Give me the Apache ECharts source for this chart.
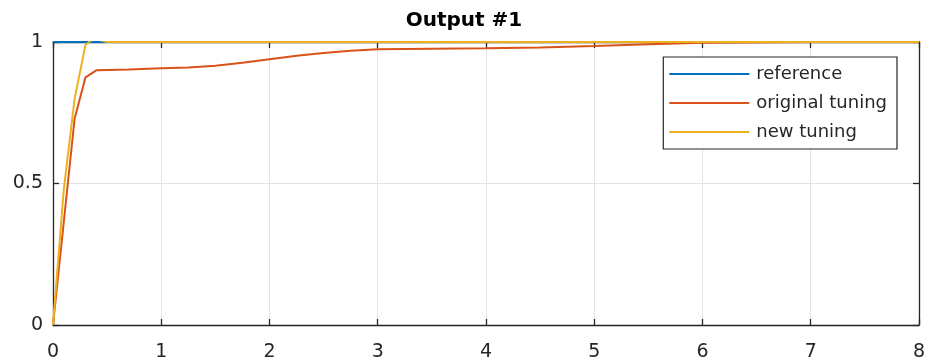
<!DOCTYPE html>
<html>
<head>
<meta charset="utf-8">
<script src="https://cdn.jsdelivr.net/npm/echarts@6/dist/echarts.min.js"></script>
<style>
html,body{margin:0;padding:0;background:#fff;}
#chart{width:928px;height:364px;}
</style>
</head>
<body>
<div id="chart"></div>
<script>
const chartTitle = 'Output #1';
const seriesNames = ['reference', 'original tuning', 'new tuning'];
const xTicks = [0, 1, 2, 3, 4, 5, 6, 7, 8];
const yTicks = [0, 0.5, 1];

const timeRef = [0, 8];
const refValues = [1, 1];

const timeOrig = [0, 0.2, 0.3, 0.4, 0.7, 1, 1.25, 1.5, 1.75, 2, 2.25, 2.5, 2.75, 3, 3.5, 4, 4.5, 5, 5.5, 6, 7, 8];
const origValues = [0, 0.73, 0.875, 0.9, 0.903, 0.907, 0.91, 0.916, 0.927, 0.939, 0.951, 0.961, 0.969, 0.974, 0.976, 0.978, 0.981, 0.986, 0.992, 0.997, 1, 1];

const timeNew = [0, 0.1, 0.2, 0.3, 0.35, 0.4, 0.5, 8];
const newValues = [0, 0.48, 0.8, 0.99, 1.005, 1.01, 1, 1];

const colors = ['#0072BD', '#D95319', '#EDB120'];
const axisColor = '#262626';
const font = 'DejaVu Sans';

function pairs(xs, ys) { return xs.map((x, i) => [x, ys[i]]); }

const chart = echarts.init(document.getElementById('chart'), null, {renderer: 'canvas'});
const baseAxis = {
  axisLine: {show: true, onZero: false, lineStyle: {color: axisColor, width: 1.3}},
  axisTick: {show: true, inside: true, length: 6, lineStyle: {color: axisColor, width: 1.3}},
};
chart.setOption({
  animation: false,
  color: colors,
  title: {
    text: chartTitle, left: 'center', top: 6,
    textStyle: {fontFamily: font, fontWeight: 'bold', fontSize: 20, color: '#000'}
  },
  grid: {left: 53, right: 9, top: 42, bottom: 39},
  legend: {
    orient: 'vertical', right: 31, top: 57,
    data: seriesNames,
    icon: 'rect', itemWidth: 80, itemHeight: 2, itemGap: 11,
    padding: [8, 10, 8, 6],
    backgroundColor: '#fff',
    borderColor: axisColor, borderWidth: 1.2, borderRadius: 0,
    textStyle: {fontFamily: font, fontSize: 18, color: '#262626', padding: [0, 0, 0, 2]}
  },
  xAxis: [
    Object.assign({}, baseAxis, {
      type: 'value', min: xTicks[0], max: xTicks[xTicks.length - 1], interval: 1,
      position: 'bottom',
      axisLabel: {fontFamily: font, fontSize: 19, color: '#262626', margin: 18},
      splitLine: {show: true, lineStyle: {color: '#e3e3e3', width: 1}}
    }),
    Object.assign({}, baseAxis, {
      type: 'value', min: xTicks[0], max: xTicks[xTicks.length - 1], interval: 1,
      position: 'top', axisLabel: {show: false}, splitLine: {show: false}
    })
  ],
  yAxis: [
    Object.assign({}, baseAxis, {
      type: 'value', min: yTicks[0], max: yTicks[yTicks.length - 1], interval: 0.5,
      position: 'left',
      axisLabel: {fontFamily: font, fontSize: 19, color: '#262626', margin: 10},
      splitLine: {show: true, lineStyle: {color: '#e3e3e3', width: 1}}
    }),
    Object.assign({}, baseAxis, {
      type: 'value', min: yTicks[0], max: yTicks[yTicks.length - 1], interval: 0.5,
      position: 'right', axisLabel: {show: false}, splitLine: {show: false}
    })
  ],
  series: [
    {name: seriesNames[0], type: 'line', data: pairs(timeRef, refValues), showSymbol: false,
     lineStyle: {width: 2.2, color: colors[0]}, z: 2},
    {name: seriesNames[1], type: 'line', data: pairs(timeOrig, origValues), showSymbol: false,
     lineStyle: {width: 2, color: colors[1]}, z: 3},
    {name: seriesNames[2], type: 'line', data: pairs(timeNew, newValues), showSymbol: false,
     lineStyle: {width: 2, color: colors[2]}, z: 4}
  ]
});
</script>
</body>
</html>
